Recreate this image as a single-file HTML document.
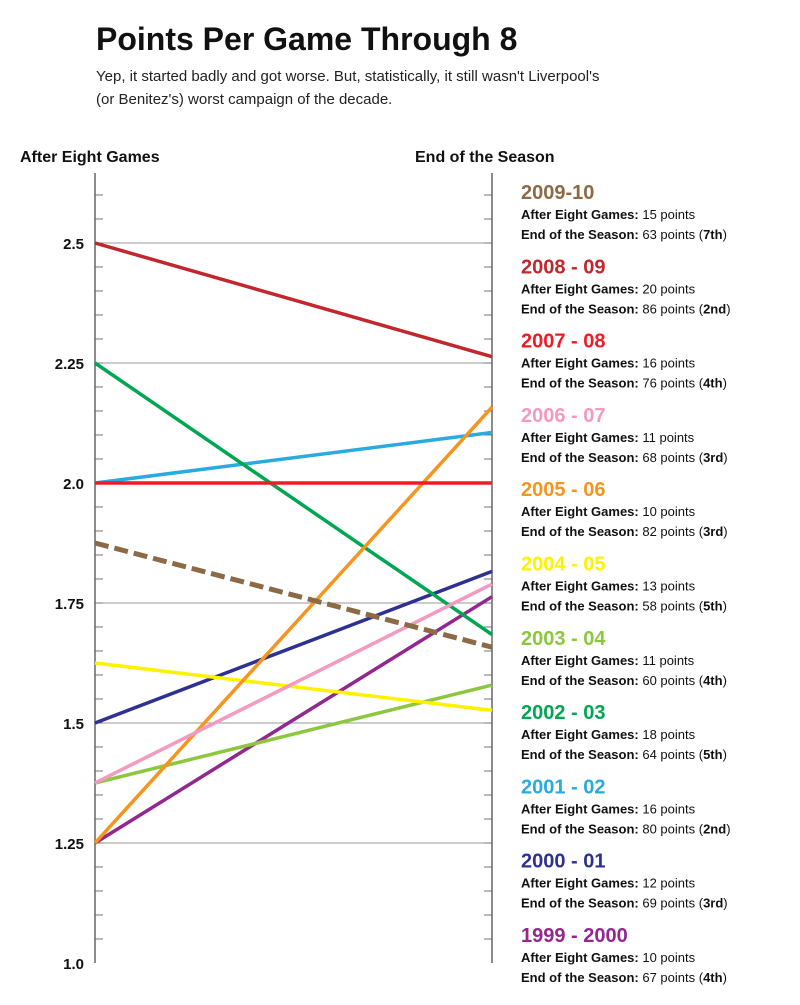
<!DOCTYPE html>
<html><head><meta charset="utf-8"><style>
body{margin:0;background:#fff;width:800px;height:1000px;overflow:hidden;font-family:"Liberation Sans",sans-serif;}
svg text{font-family:"Liberation Sans",sans-serif;}
</style></head><body>
<svg width="800" height="1000">
<text x="96" y="50" font-size="32" font-weight="bold" fill="#111">Points Per Game Through 8</text>
<text x="96" y="81" font-size="15" fill="#222">Yep, it started badly and got worse. But, statistically, it still wasn't Liverpool's</text>
<text x="96" y="104" font-size="15" fill="#222">(or Benitez's) worst campaign of the decade.</text>
<text x="20" y="162" font-size="16" font-weight="bold" fill="#111">After Eight Games</text>
<text x="415" y="162" font-size="16" font-weight="bold" fill="#111">End of the Season</text>
<g id="grid"></g><g id="lines"></g><g id="legend"></g>
</svg>
<script>
const seasons=["2009-10","2008 - 09","2007 - 08","2006 - 07","2005 - 06","2004 - 05","2003 - 04","2002 - 03","2001 - 02","2000 - 01","1999 - 2000"];
const afterEight=[15,20,16,11,10,13,11,18,16,12,10];
const endSeason=[63,86,76,68,82,58,60,64,80,69,67];
const finish=["7th","2nd","4th","3rd","3rd","5th","4th","5th","2nd","3rd","4th"];
const colors=["#8b6a45","#c1272d","#ee1c24","#f49ac1","#f7941d","#fff200","#8dc63f","#00a651","#29aae1","#2e3192","#92278f"];
const ticks=[1.25,1.5,1.75,2.0,2.25,2.5];
const tickLabels=["1.0","1.25","1.5","1.75","2.0","2.25","2.5"];
const labelVals=[1.0,1.25,1.5,1.75,2.0,2.25,2.5];
const NS="http://www.w3.org/2000/svg";
const xL=95,xR=492;
const y=v=>963-(v-1)*480;
function mk(tag,attrs,parent){const e=document.createElementNS(NS,tag);for(const k in attrs)e.setAttribute(k,attrs[k]);parent.appendChild(e);return e;}
const grid=document.getElementById('grid'),lines=document.getElementById('lines'),legend=document.getElementById('legend');
ticks.forEach(t=>{
 const g=mk('line',{x1:xL,x2:xR,y1:y(t),y2:y(t),stroke:'#999','stroke-width':1},grid);
 
 
});
labelVals.forEach((t,i)=>{
 const tx=mk('text',{x:84,y:y(t)+6,'text-anchor':'end','font-size':15,'font-weight':'bold',fill:'#111'},grid);
 tx.textContent=tickLabels[i];
 
 
});
for(let v=1.05;v<2.62;v+=0.05){
 mk('line',{x1:xL,x2:xL+8,y1:y(v),y2:y(v),stroke:'#777','stroke-width':1},grid);
 mk('line',{x1:xR-8,x2:xR,y1:y(v),y2:y(v),stroke:'#777','stroke-width':1},grid);
}
[xL,xR].forEach(x=>{const a=mk('line',{x1:x,x2:x,y1:173,y2:963,stroke:'#666','stroke-width':1.5},grid);
 
 });
for(let i=seasons.length-1;i>=0;i--){
 const l=mk('line',{x1:xL,x2:xR,y1:y(afterEight[i]/8),y2:y(endSeason[i]/38),stroke:colors[i],'stroke-width':i==0?5:3.5},lines);
 if(i==0)l.setAttribute('stroke-dasharray','14,6');
 
 
}
seasons.forEach((s,i)=>{
 const base=199+i*74.3;
 const h=mk('text',{x:521,y:base,'font-size':20,'font-weight':'bold',fill:colors[i]},legend);
 h.textContent=s;
 
 
 const a=mk('text',{x:521,y:base+20,'font-size':13,fill:'#111'},legend);
 a.innerHTML='<tspan font-weight="bold">After Eight Games:</tspan> '+afterEight[i]+' points';
 
 
 const b=mk('text',{x:521,y:base+40,'font-size':13,fill:'#111'},legend);
 b.innerHTML='<tspan font-weight="bold">End of the Season:</tspan> '+endSeason[i]+' points (<tspan font-weight="bold">'+finish[i]+'</tspan>)';
 
 
});
</script>
</body></html>
